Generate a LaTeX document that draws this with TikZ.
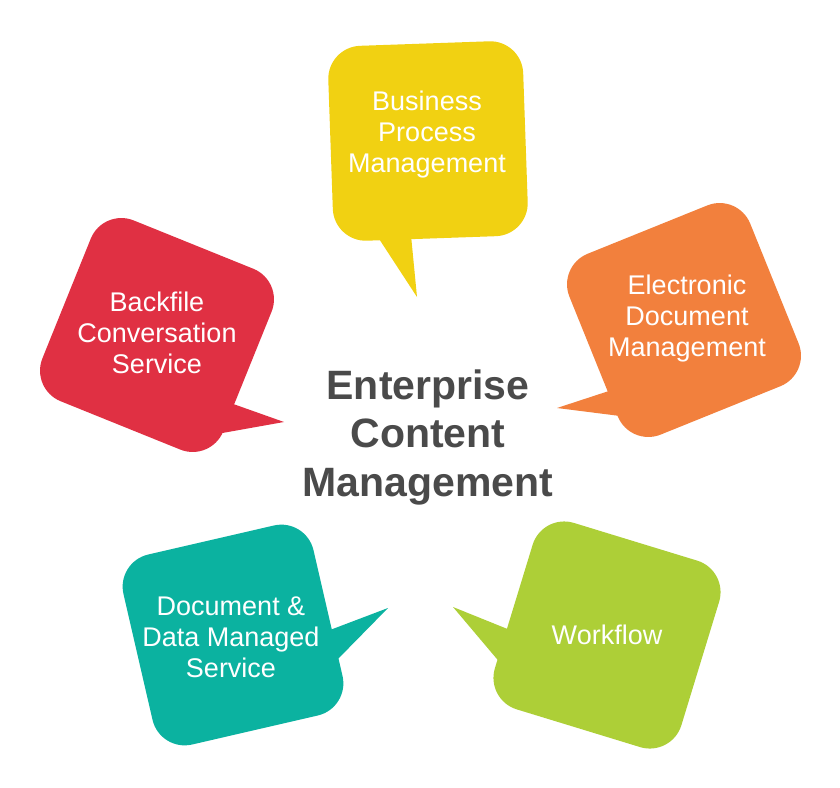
\documentclass[tikz,border=0pt]{standalone}
\usepackage{fontspec}
\setmainfont{Liberation Sans}
\definecolor{cyel}{HTML}{F1D112}
\definecolor{cred}{HTML}{E03043}
\definecolor{corg}{HTML}{F2803D}
\definecolor{cteal}{HTML}{0BB2A0}
\definecolor{cgrn}{HTML}{ADCF37}
\definecolor{cdark}{HTML}{4A4A4A}
\tikzset{
  bubblebody/.style={rounded corners=33pt},
  bubbletext/.style={text=white, align=center, font=\fontsize{27}{31}\selectfont, inner sep=0pt},
  maintext/.style={text=cdark, align=center, font=\fontsize{41}{48.5}\selectfont\bfseries, inner sep=0pt}
}
\begin{document}
\begin{tikzpicture}[x=1pt,y=-1pt]
\useasboundingbox[fill=white] (0,0) rectangle (840,787);
% Yellow
\begin{scope}[shift={(428,141)},rotate=2]
  \fill[cyel,bubblebody] (-97.5,-97.5) rectangle (97.5,97.5);
\end{scope}
\coordinate (ytip) at (417,297);
\fill[cyel] (370,225) -- (ytip) -- (410,225) -- cycle;
\node[bubbletext] (bpm) at (427,135) {Business\\Process\\Management};
% Red
\begin{scope}[shift={(157,335)},rotate=-22]
  \fill[cred,bubblebody] (-97.5,-97.5) rectangle (97.5,97.5);
\end{scope}
\coordinate (rtip) at (284,422);
\fill[cred] (222,400) -- (rtip) -- (200,437) -- cycle;
\node[bubbletext] (bcs) at (157,333) {Backfile\\Conversation\\Service};
% Orange
\begin{scope}[shift={(684,320)},rotate=22]
  \fill[corg,bubblebody] (-97.5,-97.5) rectangle (97.5,97.5);
\end{scope}
\coordinate (otip) at (557,408);
\fill[corg] (618,388) -- (otip) -- (636,418) -- cycle;
\node[bubbletext] (edm) at (687,319) {Electronic\\Document\\Management};
% Teal
\begin{scope}[shift={(233,635)},rotate=13]
  \fill[cteal,bubblebody] (-97.5,-97.5) rectangle (97.5,97.5);
\end{scope}
\coordinate (ttip) at (388,608);
\fill[cteal] (330,630) -- (ttip) -- (335,662) -- cycle;
\node[bubbletext] (dds) at (231,637) {Document \&\\Data Managed\\Service};
% Green
\begin{scope}[shift={(607,635)},rotate=-17]
  \fill[cgrn,bubblebody] (-97.5,-97.5) rectangle (97.5,97.5);
\end{scope}
\coordinate (gtip) at (453,607);
\fill[cgrn] (510,630) -- (gtip) -- (502,665) -- cycle;
\node[bubbletext] (wf) at (607,635) {Workflow};
% Centre
\node[maintext] (ecm) at (428,437) {Enterprise\\Content\\Management};
\end{tikzpicture}
\end{document}
